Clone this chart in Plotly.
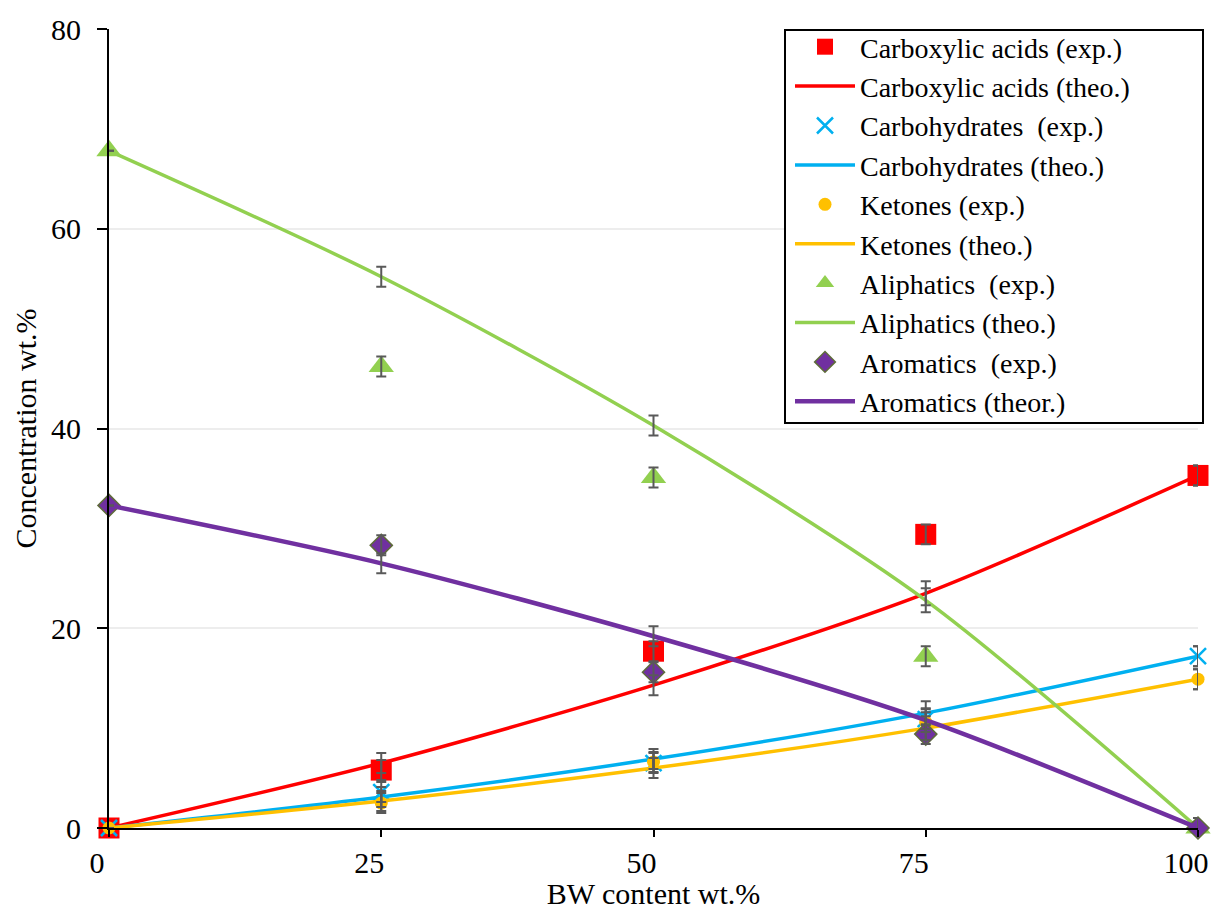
import plotly.graph_objects as go

# ---- data ----
bw_content = [0, 25, 50, 75, 100]

carboxylic_exp = [0, 5.8, 17.7, 29.4, 35.3]
carboxylic_theo = [0, 6.5, 14.3, 23.5, 35.3]
carbohydrates_exp = [0, 3.6, 6.5, 10.9, 17.2]
carbohydrates_theo = [0, 3.1, 6.9, 11.5, 17.2]
ketones_exp = [0, 2.5, 6.6, 10.6, 14.9]
ketones_theo = [0, 2.7, 6.0, 10.0, 14.9]
aliphatics_exp = [67.8, 46.2, 35.1, 17.2, 0]
aliphatics_theo = [67.8, 55.2, 40.3, 22.8, 0]
aromatics_exp = [32.3, 28.3, 15.6, 9.4, 0]
aromatics_theo = [32.3, 26.5, 19.2, 10.8, 0]

err_exp = [0, 1.0, 1.0, 1.0, 1.0]
err_theo = [0, 1.0, 1.0, 1.2, 1.0]

x_ticks = [0, 25, 50, 75, 100]
y_ticks = [0, 20, 40, 60, 80]

FONT = "Liberation Serif, Times New Roman, DejaVu Serif, serif"
RED = "#FF0000"
BLUE = "#00B0F0"
YELLOW = "#FFC000"
GREEN = "#92D050"
PURPLE = "#7030A0"
ERR = "#595959"

W, H = 1211, 910
ML, MR, MT, MB = 109, 13, 29, 82
PW, PH = W - ML - MR, H - MT - MB

def px_x(p):
    return (p - ML) / PW

def px_y(p):
    return (H - MB - p) / PH

fig = go.Figure()

def exp_trace(name, y, color, symbol, size, line=None):
    m = dict(color=color, symbol=symbol, size=size)
    if line:
        m["line"] = line
    fig.add_trace(go.Scatter(x=bw_content, y=y, mode="markers", name=name,
                             marker=m, cliponaxis=False))

def theo_trace(name, y, color, width=3.5):
    fig.add_trace(go.Scatter(x=bw_content, y=y, mode="lines", name=name,
                             line=dict(color=color, width=width, shape="spline", smoothing=0.8),
                             cliponaxis=False))

exp_trace("Carboxylic acids (exp.)", carboxylic_exp, RED, "square", 21)
theo_trace("Carboxylic acids (theo.)", carboxylic_theo, RED)
exp_trace("Carbohydrates  (exp.)", carbohydrates_exp, BLUE, "x-thin", 16,
          line=dict(color=BLUE, width=2.5))
theo_trace("Carbohydrates (theo.)", carbohydrates_theo, BLUE)
exp_trace("Ketones (exp.)", ketones_exp, YELLOW, "circle", 13)
theo_trace("Ketones (theo.)", ketones_theo, YELLOW)
exp_trace("Aliphatics  (exp.)", aliphatics_exp, GREEN, "triangle-up", 22)
theo_trace("Aliphatics (theo.)", aliphatics_theo, GREEN)
exp_trace("Aromatics  (exp.)", aromatics_exp, PURPLE, "diamond", 17,
          line=dict(color="#5E6B3A", width=1.5))
theo_trace("Aromatics (theor.)", aromatics_theo, PURPLE, width=4.5)

# error bars (no legend entries)
for series in [carboxylic_exp, carbohydrates_exp, ketones_exp, aliphatics_exp, aromatics_exp]:
    fig.add_trace(go.Scatter(x=bw_content, y=series, mode="markers", showlegend=False,
                             marker=dict(size=1, opacity=0), hoverinfo="skip", cliponaxis=False,
                             error_y=dict(type="data", array=err_exp, color=ERR,
                                          thickness=2, width=5)))
for series in [carboxylic_theo, carbohydrates_theo, ketones_theo, aliphatics_theo, aromatics_theo]:
    fig.add_trace(go.Scatter(x=bw_content, y=series, mode="markers", showlegend=False,
                             marker=dict(size=1, opacity=0), hoverinfo="skip", cliponaxis=False,
                             error_y=dict(type="data", array=err_theo, color=ERR,
                                          thickness=2, width=5)))

# legend frame
fig.add_shape(type="rect", xref="paper", yref="paper",
              x0=px_x(785), x1=px_x(1203), y0=px_y(423), y1=px_y(30),
              fillcolor="white", line=dict(color="black", width=2), layer="above")

fig.update_layout(
    width=W, height=H,
    margin=dict(l=ML, r=MR, t=MT, b=MB, autoexpand=False),
    paper_bgcolor="white", plot_bgcolor="white",
    font=dict(family=FONT, size=28, color="black"),
    legend=dict(x=px_x(790), y=px_y(22), xanchor="left", yanchor="top",
                bgcolor="rgba(0,0,0,0)", borderwidth=0,
                font=dict(family=FONT, size=28, color="black"),
                itemwidth=60),
    xaxis=dict(range=[0, 100], tickvals=x_ticks, ticks="outside", ticklen=7,
               tickwidth=2, tickcolor="black", showline=True, linecolor="black",
               linewidth=2, showgrid=False, zeroline=False, automargin=False,
               tickfont=dict(family=FONT, size=30), ticklabelshift=-12,
               ticklabelstandoff=0,
               title=dict(text="BW content wt.%", font=dict(family=FONT, size=30),
                          standoff=14)),
    yaxis=dict(range=[0, 80], tickvals=y_ticks, ticks="outside", ticklen=10,
               tickwidth=2, tickcolor="black", showline=True, linecolor="black",
               linewidth=2, showgrid=True, gridcolor="#EDEDED", gridwidth=2,
               zeroline=False, automargin=False, tickfont=dict(family=FONT, size=30),
               ticklabelstandoff=10,
               title=dict(text="Concentration wt.%", font=dict(family=FONT, size=30),
                          standoff=6)),
)

fig.write_html("out.html")
